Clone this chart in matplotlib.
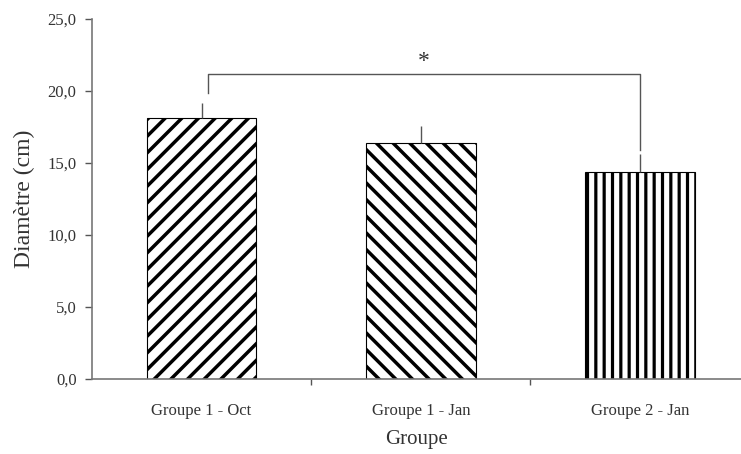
import matplotlib
matplotlib.use("Agg")
import matplotlib.pyplot as plt
from matplotlib.ticker import FixedLocator, FuncFormatter

# Data
groups = ["Groupe 1 - Oct", "Groupe 1 - Jan", "Groupe 2 - Jan"]
means = [18.1, 16.4, 14.4]
errors = [1.1, 1.2, 1.2]
hatches = ["//", "\\\\", "||"]
y_ticks = [0, 5, 10, 15, 20, 25]

# Significance bracket between group 1 - Oct and group 2 - Jan
bracket_x = [0.03, 2.0]
bracket_y = 21.2
bracket_feet = [19.9, 15.9]

plt.rcParams['font.family'] = ['Liberation Serif', 'DejaVu Serif']
line_col = '#555555'
text_col = '#333333'

fig = plt.figure(figsize=(7.41, 4.54), dpi=100)
ax = fig.add_axes([0.124, 0.165, 0.876, 0.793])

x = list(range(len(groups)))
for i in x:
    lw = 2.3 if hatches[i] == "||" else 2.5
    with plt.rc_context({'hatch.linewidth': lw}):
        ax.bar(x[i], means[i], width=0.5, color='white', edgecolor='black',
               linewidth=0.8, hatch=hatches[i], zorder=2)

# upper-only error bars
ax.errorbar(x, means, yerr=[[0] * len(errors), errors], fmt='none',
            ecolor=line_col, elinewidth=1.0, capsize=0, zorder=3)

# bracket
ax.plot([bracket_x[0], bracket_x[0], bracket_x[1], bracket_x[1]],
        [bracket_feet[0], bracket_y, bracket_y, bracket_feet[1]],
        color=line_col, linewidth=1.0, zorder=3)
ax.text(sum(bracket_x) / 2, bracket_y + 0.1, "*", ha='center', va='bottom',
        fontsize=17, color=text_col)

ax.set_xlim(-0.5, 2.46)
ax.set_ylim(0, 25)

ax.yaxis.set_major_locator(FixedLocator(y_ticks))
ax.yaxis.set_major_formatter(FuncFormatter(lambda v, p: f"{v:.1f}".replace('.', ',')))
ax.set_xticks(x)
ax.set_xticklabels(groups)
ax.xaxis.set_minor_locator(FixedLocator([0.5, 1.5]))

ax.tick_params(axis='y', direction='out', length=5, width=1, color=line_col,
               labelsize=12, labelcolor=text_col, pad=6)
ax.tick_params(axis='x', which='major', length=0, labelsize=12,
               labelcolor=text_col, pad=17)
ax.tick_params(axis='x', which='minor', direction='out', length=4, width=1,
               color=line_col)

for s in ['top', 'right']:
    ax.spines[s].set_visible(False)
for s in ['left', 'bottom']:
    ax.spines[s].set_color('#777777')
    ax.spines[s].set_linewidth(1.2)

ax.set_ylabel("Diamètre (cm)", fontsize=17, color=text_col, labelpad=9)
ax.set_xlabel("Groupe", fontsize=15, color=text_col, labelpad=8)

fig.savefig("out.png", dpi=100)
